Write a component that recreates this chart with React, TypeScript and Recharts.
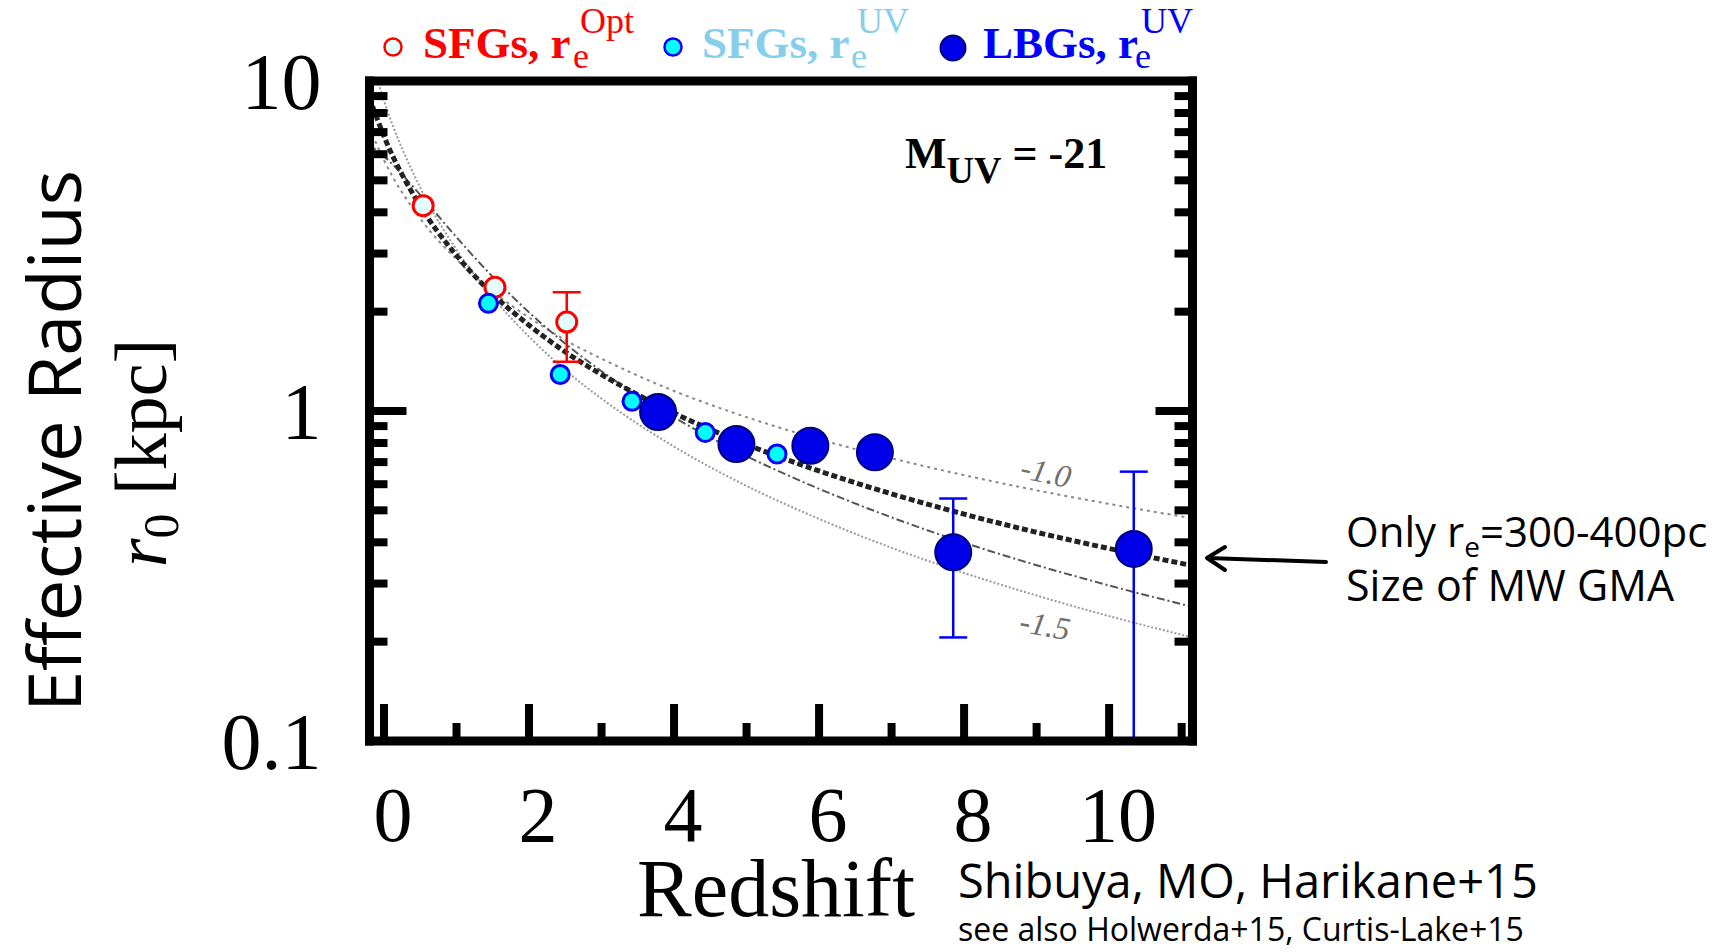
import React from 'react';
import { ComposedChart, Line, Scatter, ErrorBar, XAxis, YAxis } from 'recharts';

// model curves r0(z) on a shared redshift grid
const CURVE_Z = [-0.2, 0, 0.5, 1, 1.5, 2, 2.5, 3, 4, 5, 6, 7, 8, 9, 10, 11.15];
const CURVE_SLOPE_10 = [7.19, 5.75, 3.83, 2.88, 2.3, 1.92, 1.64, 1.44, 1.15, 0.958, 0.821, 0.719, 0.639, 0.575, 0.523, 0.473];
const CURVE_BEST = [8.89, 6.8, 4.18, 2.96, 2.26, 1.82, 1.51, 1.29, 0.986, 0.792, 0.658, 0.561, 0.487, 0.429, 0.383, 0.34];
const CURVE_HUBBLE = [6.4, 5.91, 4.52, 3.36, 2.55, 1.99, 1.6, 1.32, 0.956, 0.73, 0.581, 0.476, 0.399, 0.341, 0.296, 0.255];
const CURVE_SLOPE_15 = [12.19, 8.72, 4.75, 3.08, 2.21, 1.68, 1.33, 1.09, 0.78, 0.593, 0.471, 0.385, 0.323, 0.276, 0.239, 0.206];

// SFGs, optical sizes (red open circles)
const SFG_OPT_Z = [0.54, 1.53];
const SFG_OPT_R = [4.19, 2.37];
const SFG_OPT_ERR_Z = [2.52];
const SFG_OPT_ERR_R = [1.86];
const SFG_OPT_ERR_LO = [0.45];
const SFG_OPT_ERR_HI = [0.43];

// SFGs, UV sizes (cyan)
const SFG_UV_Z = [1.44, 2.43, 3.42, 4.43, 5.42];
const SFG_UV_R = [2.12, 1.29, 1.07, 0.861, 0.741];

// LBGs, UV sizes (big blue)
const LBG_Z = [3.78, 4.86, 5.88, 6.77];
const LBG_R = [0.993, 0.794, 0.785, 0.75];
const LBG_ERR_Z = [7.85, 10.34];
const LBG_ERR_R = [0.373, 0.382];
const LBG_ERR_LO = [0.167, 0.282];
const LBG_ERR_HI = [0.17, 0.273];

const X_TICKS = [0, 1, 2, 3, 4, 5, 6, 7, 8, 9, 10, 11];
const X_LABELED = [0, 2, 4, 6, 8, 10];
const Y_TICKS = [0.1, 0.2, 0.3, 0.4, 0.5, 0.6, 0.7, 0.8, 0.9, 1, 2, 3, 4, 5, 6, 7, 8, 9, 10];
const Y_LABELED = [0.1, 1, 10];

const X_DOMAIN = [-0.2, 11.15];
const Y_DOMAIN = [0.1, 10];

const curve = (vals: number[]) => CURVE_Z.map((z, i) => ({ z, r: vals[i] }));
const pts = (zs: number[], rs: number[]) => zs.map((z, i) => ({ z, r: rs[i] }));
const errPts = (zs: number[], rs: number[], lo: number[], hi: number[]) =>
  zs.map((z, i) => ({ z, r: rs[i], err: [lo[i], hi[i]] }));

const SERIF = '"Liberation Serif", "Times New Roman", serif';
const SANS = '"Open Sans", "Noto Sans", sans-serif';
const MAJOR = 37;
const MINOR = 18;
const TICK_W = 8;
const AXIS_H = 30;
const AXIS_W = 60;

const BottomTick = (p: any) => {
  const v = p.payload.value;
  const major = X_LABELED.includes(v);
  return (
    <g>
      <line x1={p.x} y1={p.y} x2={p.x} y2={p.y - (major ? MAJOR : MINOR)} stroke="#000" strokeWidth={TICK_W} />
      {major && (
        <text x={p.x + 9} y={p.y + 100} textAnchor="middle" fontFamily={SERIF} fontSize={78} fill="#000">
          {v}
        </text>
      )}
    </g>
  );
};

const TopTick = (p: any) => {
  const major = X_LABELED.includes(p.payload.value);
  return <line x1={p.x} y1={p.y} x2={p.x} y2={p.y + (major ? MAJOR : MINOR)} stroke="#000" strokeWidth={TICK_W} />;
};

const LeftTick = (p: any) => {
  const v = p.payload.value;
  const major = Y_LABELED.includes(v);
  return (
    <g>
      <line x1={p.x} y1={p.y} x2={p.x + (major ? MAJOR : MINOR)} y2={p.y} stroke="#000" strokeWidth={TICK_W} />
      {major && (
        <text x={p.x - 48} y={p.y + 28} textAnchor="end" fontFamily={SERIF} fontSize={80} fill="#000">
          {v}
        </text>
      )}
    </g>
  );
};

const RightTick = (p: any) => {
  const major = Y_LABELED.includes(p.payload.value);
  return <line x1={p.x} y1={p.y} x2={p.x - (major ? MAJOR : MINOR)} y2={p.y} stroke="#000" strokeWidth={TICK_W} />;
};

const redShape = (p: any) => <circle cx={p.cx} cy={p.cy} r={10} fill="#e4ffff" stroke="#ff0000" strokeWidth={3} />;
const cyanShape = (p: any) => <circle cx={p.cx} cy={p.cy} r={9} fill="#00ffff" stroke="#0000ff" strokeWidth={3} />;
const blueShape = (p: any) => <circle cx={p.cx} cy={p.cy} r={18} fill="#0000e8" stroke="#00007a" strokeWidth={2} />;

const frameLine = { stroke: '#000', strokeWidth: 9, strokeLinecap: 'square' as const };

export default function App() {
  return (
    <div style={{ position: 'absolute', left: 0, top: 0, width: 1735, height: 952, background: '#fff' }}>
      <ComposedChart
        width={1735}
        height={952}
        margin={{ top: 81 - AXIS_H, left: 369.5 - AXIS_W, right: 542.5 - AXIS_W, bottom: 211 - AXIS_H }}
      >
        <XAxis
          dataKey="z"
          type="number"
          domain={X_DOMAIN}
          allowDataOverflow
          ticks={X_TICKS}
          interval={0}
          height={AXIS_H}
          tickSize={0}
          tickMargin={0}
          tickLine={false}
          axisLine={frameLine}
          tick={(p: any) => <BottomTick {...p} />}
        />
        <XAxis
          xAxisId="top"
          orientation="top"
          type="number"
          domain={X_DOMAIN}
          allowDataOverflow
          ticks={X_TICKS}
          interval={0}
          height={AXIS_H}
          tickSize={0}
          tickMargin={0}
          tickLine={false}
          axisLine={frameLine}
          tick={(p: any) => <TopTick {...p} />}
        />
        <YAxis
          dataKey="r"
          type="number"
          scale="log"
          domain={Y_DOMAIN}
          allowDataOverflow
          ticks={Y_TICKS}
          interval={0}
          width={AXIS_W}
          tickSize={0}
          tickMargin={0}
          tickLine={false}
          axisLine={frameLine}
          tick={(p: any) => <LeftTick {...p} />}
        />
        <YAxis
          yAxisId="right"
          orientation="right"
          type="number"
          scale="log"
          domain={Y_DOMAIN}
          allowDataOverflow
          ticks={Y_TICKS}
          interval={0}
          width={AXIS_W}
          tickSize={0}
          tickMargin={0}
          tickLine={false}
          axisLine={frameLine}
          tick={(p: any) => <RightTick {...p} />}
        />

        <Line data={curve(CURVE_SLOPE_10)} dataKey="r" type="monotone" stroke="#8a8a8a" strokeWidth={2} strokeDasharray="3 4" dot={false} activeDot={false} isAnimationActive={false} />
        <Line data={curve(CURVE_SLOPE_15)} dataKey="r" type="monotone" stroke="#9a9a9a" strokeWidth={2} strokeDasharray="2 2" dot={false} activeDot={false} isAnimationActive={false} />
        <Line data={curve(CURVE_HUBBLE)} dataKey="r" type="monotone" stroke="#555" strokeWidth={2} strokeDasharray="8 3 2 3" dot={false} activeDot={false} isAnimationActive={false} />
        <Line data={curve(CURVE_BEST)} dataKey="r" type="monotone" stroke="#222" strokeWidth={5} strokeDasharray="6 3" dot={false} activeDot={false} isAnimationActive={false} />

        <Scatter data={pts(SFG_OPT_Z, SFG_OPT_R)} dataKey="r" shape={redShape} isAnimationActive={false} />
        <Scatter data={errPts(SFG_OPT_ERR_Z, SFG_OPT_ERR_R, SFG_OPT_ERR_LO, SFG_OPT_ERR_HI)} dataKey="r" shape={redShape} isAnimationActive={false}>
          <ErrorBar dataKey="err" direction="y" width={14} stroke="#ff0000" strokeWidth={2.5} />
        </Scatter>
        <Scatter data={pts(SFG_UV_Z, SFG_UV_R)} dataKey="r" shape={cyanShape} isAnimationActive={false} />
        <Scatter data={errPts(LBG_ERR_Z, LBG_ERR_R, LBG_ERR_LO, LBG_ERR_HI)} dataKey="r" shape={blueShape} isAnimationActive={false}>
          <ErrorBar dataKey="err" direction="y" width={14} stroke="#0000ff" strokeWidth={2.5} />
        </Scatter>
        <Scatter data={pts(LBG_Z, LBG_R)} dataKey="r" shape={blueShape} isAnimationActive={false} />
      </ComposedChart>

      <svg width={1735} height={952} style={{ position: 'absolute', left: 0, top: 0, pointerEvents: 'none' }}>
        {/* legend */}
        <circle cx={393} cy={47} r={8.5} fill="#e4ffff" stroke="#ff0000" strokeWidth={2.5} />
        <text x={423} y={58} fontFamily={SERIF} fontWeight="bold" fontSize={45} fill="#ff0000">SFGs, r</text>
        <text x={573} y={68} fontFamily={SERIF} fontSize={36} fill="#ff0000">e</text>
        <text x={580} y={33} fontFamily={SERIF} fontSize={36} fill="#ff0000">Opt</text>

        <circle cx={673} cy={47} r={8.5} fill="#00ffff" stroke="#0000ff" strokeWidth={2.5} />
        <text x={702} y={58} fontFamily={SERIF} fontWeight="bold" fontSize={45} fill="#87ceeb">SFGs, r</text>
        <text x={851} y={68} fontFamily={SERIF} fontSize={36} fill="#87ceeb">e</text>
        <text x={857} y={33} fontFamily={SERIF} fontSize={36} fill="#87ceeb">UV</text>

        <circle cx={953} cy={48} r={12.5} fill="#0000e8" stroke="#00007a" strokeWidth={2} />
        <text x={983} y={58} fontFamily={SERIF} fontWeight="bold" fontSize={45} fill="#0000ff">LBGs, r</text>
        <text x={1135} y={68} fontFamily={SERIF} fontSize={36} fill="#0000ff">e</text>
        <text x={1141} y={33} fontFamily={SERIF} fontSize={36} fill="#0000ff">UV</text>

        {/* in-panel labels */}
        <text x={905} y={168} fontFamily={SERIF} fontWeight="bold" fontSize={44} fill="#000">
          M<tspan fontSize={38} dy={15}>UV</tspan>
          <tspan fontSize={44} dy={-15}> = -21</tspan>
        </text>
        <text x={1046} y={483} transform="rotate(12 1046 472)" textAnchor="middle" fontFamily={SERIF} fontStyle="italic" fontSize={32} fill="#707070">-1.0</text>
        <text x={1045} y={636} transform="rotate(10 1045 625)" textAnchor="middle" fontFamily={SERIF} fontStyle="italic" fontSize={32} fill="#707070">-1.5</text>

        {/* axis titles */}
        <text x={81} y={441} transform="rotate(-90 81 441)" textAnchor="middle" fontFamily={SANS} fontSize={74} fill="#000">Effective Radius</text>
        <text x={166} y={453} transform="rotate(-90 166 453)" textAnchor="middle" fontFamily={SERIF} fontSize={74} fill="#000">
          <tspan fontStyle="italic">r</tspan>
          <tspan fontSize={50} dy={12}>0</tspan>
          <tspan dy={-12}> [kpc]</tspan>
        </text>
        <text x={776} y={916} textAnchor="middle" fontFamily={SERIF} fontSize={82} fill="#000">Redshift</text>

        {/* annotation */}
        <line x1={1326} y1={562} x2={1208} y2={558} stroke="#000" strokeWidth={4} strokeLinecap="round" />
        <polyline points="1225,547 1207,558 1225,570" fill="none" stroke="#000" strokeWidth={4} strokeLinecap="round" strokeLinejoin="round" />
        <text x={1346} y={547} fontFamily={SANS} fontSize={42} fill="#000">
          Only r<tspan fontSize={28} dy={10}>e</tspan>
          <tspan fontSize={42} dy={-10}>=300-400pc</tspan>
        </text>
        <text x={1346} y={601} fontFamily={SANS} fontSize={43} fill="#000">Size of MW GMA</text>
        <text x={958} y={898} fontFamily={SANS} fontSize={47} fill="#000">Shibuya, MO, Harikane+15</text>
        <text x={958} y={941} fontFamily={SANS} fontSize={32} fill="#000">see also Holwerda+15, Curtis-Lake+15</text>
      </svg>
    </div>
  );
}
